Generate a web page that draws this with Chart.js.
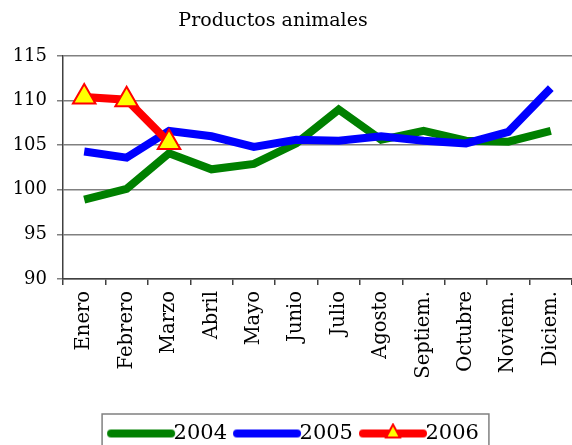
<!DOCTYPE html>
<html>
<head>
  <title>Productos animales</title>
  <script src="https://cdn.jsdelivr.net/npm/chart.js@4.4.0/dist/chart.umd.min.js"></script>
  <style>
    html, body { margin: 0; background: #fff; overflow: hidden; }
    #wrap { width: 572px; height: 445px; position: relative; }
  </style>
</head>
<body>
  <div id="wrap"><canvas id="chart"></canvas></div>
  <script>
    // values
    const months = ['Enero', 'Febrero', 'Marzo', 'Abril', 'Mayo', 'Junio', 'Julio', 'Agosto', 'Septiem.', 'Octubre', 'Noviem.', 'Diciem.'];
    const v2004 = [98.9, 100.1, 104.1, 102.3, 102.9, 105.2, 109.0, 105.6, 106.6, 105.5, 105.4, 106.6];
    const v2005 = [104.3, 103.6, 106.6, 106.0, 104.8, 105.6, 105.5, 106.0, 105.5, 105.2, 106.5, 111.4];
    const v2006 = [110.4, 110.1, 105.3, null, null, null, null, null, null, null, null, null];
    const yTicks = [90, 95, 100, 105, 110, 115];
    const titleText = 'Productos animales';

    const serif = '"DejaVu Serif", serif';
    const plotLeft = 63;
    const plotBottom = 279;
    const padBottom = -9;
    const legendShift = 10;

    // legend symbol: a thick line, optionally with a triangle in the middle
    function legendSymbol(color, withTriangle) {
      const c = document.createElement('canvas');
      c.width = 80; c.height = 22;
      const g = c.getContext('2d');
      g.strokeStyle = color;
      g.lineWidth = 8;
      g.lineCap = 'round';
      g.beginPath(); g.moveTo(13, 11); g.lineTo(73, 11); g.stroke();
      if (withTriangle) {
        g.beginPath();
        g.moveTo(43, 2); g.lineTo(50, 15); g.lineTo(36, 15); g.closePath();
        g.fillStyle = '#ffff00'; g.fill();
        g.lineWidth = 2; g.strokeStyle = '#ff0000'; g.stroke();
      }
      return c;
    }

    const titlePlugin = {
      id: 'ownTitle',
      afterDraw(chart) {
        const ctx = chart.ctx;
        ctx.save();
        ctx.font = '19px ' + serif;
        ctx.fillStyle = '#000';
        ctx.textAlign = 'center';
        ctx.textBaseline = 'middle';
        ctx.fillText(titleText, 273, 21);
        ctx.restore();
      }
    };

    // legend sits a bit right of centre in the original
    const legendBox = {
      id: 'legendBox',
      afterLayout(chart) {
        chart.legend.left += legendShift;
        chart.legend.right += legendShift;
      },
      afterDraw(chart) {
        const boxes = chart.legend.legendHitBoxes;
        if (!boxes || !boxes.length) return;
        let l = Infinity, r = -Infinity, t = Infinity;
        boxes.forEach(b => { l = Math.min(l, b.left); r = Math.max(r, b.left + b.width); t = Math.min(t, b.top); });
        const ctx = chart.ctx;
        ctx.save();
        ctx.strokeStyle = '#808080';
        ctx.lineWidth = 1.5;
        ctx.strokeRect(l - 11, t - 9, r - l + 21, 60);
        ctx.restore();
      }
    };

    new Chart(document.getElementById('chart'), {
      type: 'line',
      data: {
        labels: months,
        datasets: [
          { label: '2004', data: v2004, borderColor: '#008000', backgroundColor: '#008000', borderWidth: 8, pointRadius: 0, order: 3, sym: legendSymbol('#008000', false) },
          { label: '2005', data: v2005, borderColor: '#0000ff', backgroundColor: '#0000ff', borderWidth: 8, pointRadius: 0, order: 2, sym: legendSymbol('#0000ff', false) },
          { label: '2006', data: v2006, borderColor: '#ff0000', backgroundColor: '#ffff00', borderWidth: 8, order: 1,
            pointStyle: 'triangle', pointRadius: 13, pointBorderColor: '#ff0000', pointBackgroundColor: '#ffff00', pointBorderWidth: 2,
            sym: legendSymbol('#ff0000', true) }
        ]
      },
      options: {
        responsive: true,
        maintainAspectRatio: false,
        animation: false,
        layout: { autoPadding: false, padding: { top: 56, left: 0, right: 0, bottom: padBottom } },
        plugins: {
          title: { display: false },
          tooltip: { enabled: false },
          legend: {
            position: 'bottom',
            labels: {
              usePointStyle: true,
              pointStyleWidth: 50,
              padding: 12,
              color: '#000',
              font: { family: serif, size: 21 },
              generateLabels(chart) {
                return chart.data.datasets.map((ds, i) => ({
                  text: ds.label,
                  pointStyle: ds.sym,
                  fillStyle: ds.borderColor,
                  strokeStyle: ds.borderColor,
                  lineWidth: 0,
                  datasetIndex: i,
                  fontColor: '#000'
                }));
              }
            }
          }
        },
        scales: {
          x: {
            offset: true,
            afterFit(scale) {
              scale.height = scale.chart.height - padBottom - plotBottom - scale.chart.legend.height;
              scale.paddingLeft = 0;
              scale.paddingRight = 0;
            },
            grid: { offset: true, drawOnChartArea: false, drawTicks: true, tickLength: 6, color: '#404040', lineWidth: 1.5 },
            border: { color: '#404040', width: 1.5 },
            ticks: { minRotation: 90, maxRotation: 90, padding: 6, color: '#000', font: { family: serif, size: 19.5 } }
          },
          y: {
            min: 90,
            max: 115,
            afterFit(scale) { scale.width = plotLeft; },
            afterBuildTicks(scale) { scale.ticks = yTicks.map(v => ({ value: v })); },
            grid: { color: '#808080', lineWidth: 1.5, tickLength: 6 },
            border: { color: '#404040', width: 1.5 },
            ticks: { padding: 10, color: '#000', font: { family: serif, size: 18 } }
          }
        }
      },
      plugins: [titlePlugin, legendBox]
    });
  </script>
</body>
</html>
